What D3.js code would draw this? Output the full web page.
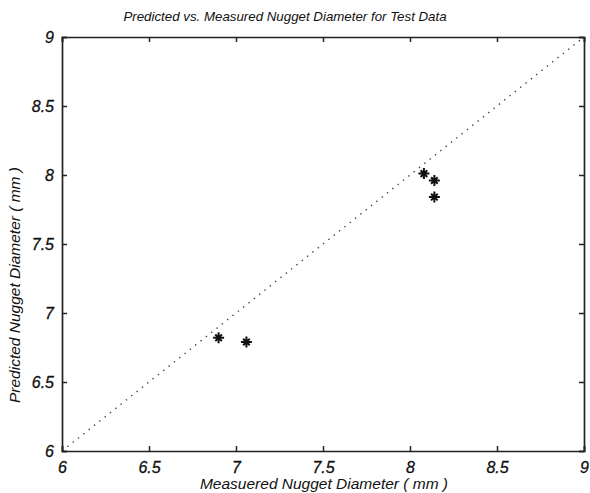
<!DOCTYPE html>
<html>
<head>
<meta charset="utf-8">
<script src="https://cdn.jsdelivr.net/npm/d3@7"></script>
<style>
  body { margin: 0; background: #fff; }
  text { font-family: "Liberation Sans", Arial, sans-serif; font-style: italic; fill: #111; }
</style>
</head>
<body>
<script>
// measured vs predicted nugget diameter (mm)
const measured  = [6.90, 7.06, 8.08, 8.14, 8.14];
const predicted = [6.82, 6.79, 8.01, 7.96, 7.84];
const xTicks = [6, 6.5, 7, 7.5, 8, 8.5, 9];
const yTicks = [6, 6.5, 7, 7.5, 8, 8.5, 9];

const W = 590, H = 493;
const m = { top: 37, right: 6, bottom: 42, left: 62 };
const w = W - m.left - m.right;
const h = H - m.top - m.bottom;

const svg = d3.select("body").append("svg")
    .attr("width", W)
    .attr("height", H);

const g = svg.append("g").attr("transform", "translate(" + m.left + "," + m.top + ")");

const x = d3.scaleLinear().domain([6, 9]).range([0, w]);
const y = d3.scaleLinear().domain([6, 9]).range([h, 0]);

// y = x reference line (dotted)
g.append("line")
    .attr("x1", x(6)).attr("y1", y(6))
    .attr("x2", x(9)).attr("y2", y(9))
    .attr("stroke", "#444")
    .attr("stroke-width", 1.4)
    .attr("stroke-dasharray", "1.4,5.4");

// axes, MATLAB style: ticks inside, box on
const fmt = d => d3.format("")(d);
g.append("g")
    .attr("transform", "translate(0," + h + ")")
    .call(d3.axisBottom(x).tickValues(xTicks).tickSize(-5).tickPadding(8).tickFormat(fmt))
    .call(a => a.selectAll("text").attr("font-size", 16).attr("dy", "0.85em"));
g.append("g")
    .call(d3.axisLeft(y).tickValues(yTicks).tickSize(-5).tickPadding(8).tickFormat(fmt))
    .call(a => a.selectAll("text").attr("font-size", 16));
g.append("g")
    .call(d3.axisTop(x).tickValues(xTicks).tickSize(-5).tickFormat(""));
g.append("g")
    .attr("transform", "translate(" + w + ",0)")
    .call(d3.axisRight(y).tickValues(yTicks).tickSize(-5).tickFormat(""));

g.selectAll(".domain").attr("stroke", "#222").attr("stroke-width", 1.7);
g.selectAll(".tick line").attr("stroke", "#222").attr("stroke-width", 1.5);
g.selectAll(".tick text").attr("fill", "#111").attr("stroke", "#111").attr("stroke-width", 0.3);

// asterisk markers
const r = 5.5;
const star = "M" + (-r) + ",0L" + r + ",0M0," + (-r) + "L0," + r +
    "M" + (-r * 0.6) + "," + (-r * 0.6) + "L" + (r * 0.6) + "," + (r * 0.6) +
    "M" + (-r * 0.6) + "," + (r * 0.6) + "L" + (r * 0.6) + "," + (-r * 0.6);
g.selectAll("path.pt")
    .data(measured)
    .enter()
    .append("path")
    .attr("class", "pt")
    .attr("transform", (d, i) => "translate(" + x(d) + "," + y(predicted[i]) + ")")
    .attr("d", star)
    .attr("stroke", "#111")
    .attr("stroke-width", 2)
    .attr("fill", "none");

// title and labels
svg.append("text")
    .attr("x", 285)
    .attr("y", 21)
    .attr("text-anchor", "middle")
    .attr("font-size", 13.3)
    .text("Predicted vs. Measured Nugget Diameter for Test Data");

svg.append("text")
    .attr("x", 324)
    .attr("y", 489)
    .attr("text-anchor", "middle")
    .attr("font-size", 15.5)
    .text("Measuered Nugget Diameter ( mm )");

svg.append("text")
    .attr("transform", "translate(20,285) rotate(-90)")
    .attr("text-anchor", "middle")
    .attr("font-size", 15.5)
    .text("Predicted Nugget Diameter ( mm )");
</script>
</body>
</html>
